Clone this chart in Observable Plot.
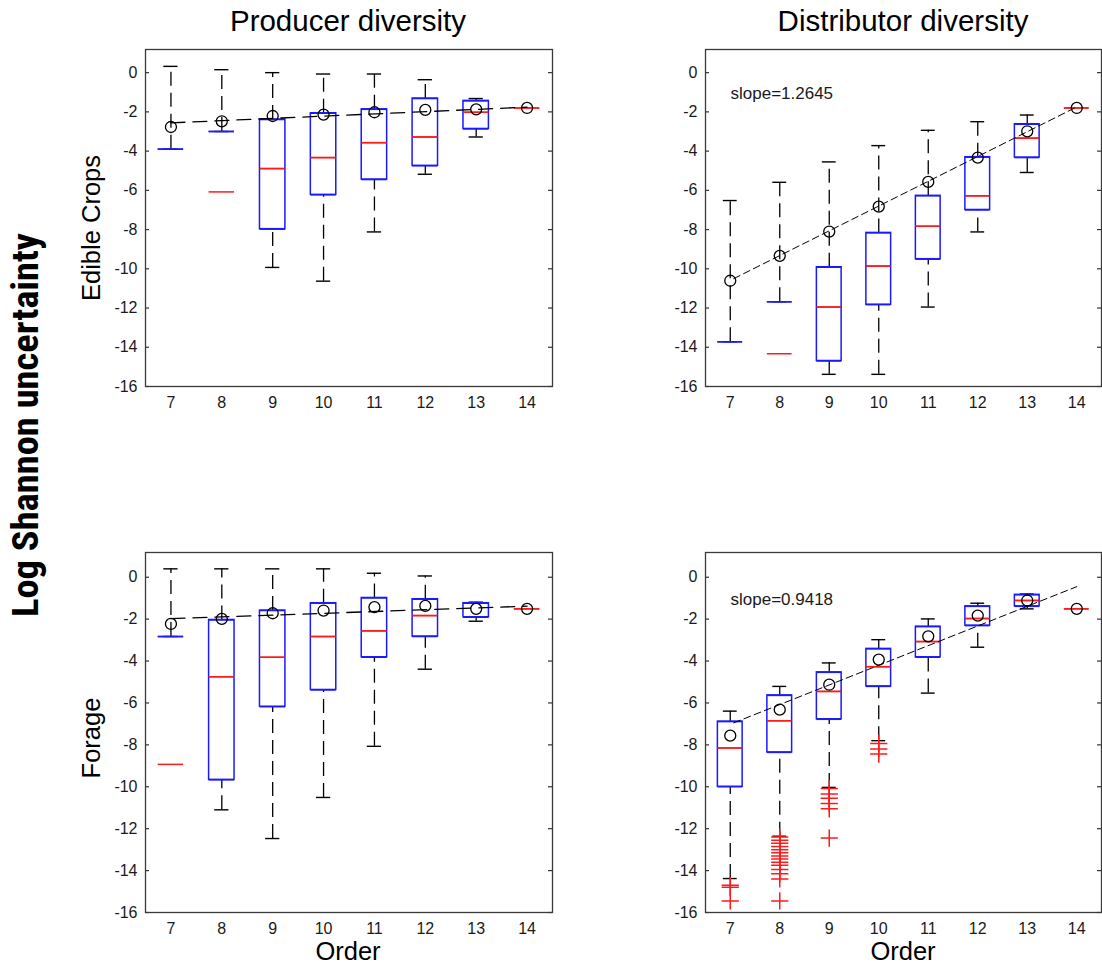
<!DOCTYPE html>
<html>
<head>
<meta charset="utf-8">
<script src="https://cdn.jsdelivr.net/npm/d3@7"></script>
<script src="https://cdn.jsdelivr.net/npm/@observablehq/plot@0.6"></script>
<style>
html, body { margin: 0; padding: 0; background: #fff; overflow: hidden; }
#wrap { position: relative; width: 1102px; height: 965px; font-family: "Liberation Sans", Arial, sans-serif; }
#overlay { position: absolute; left: 0; top: 0; pointer-events: none; }
</style>
</head>
<body>
<div id="wrap"></div>
<script>
// ---------- data ----------
const orders = [7, 8, 9, 10, 11, 12, 13, 14];
const yTicks = [0, -2, -4, -6, -8, -10, -12, -14, -16];

// Edible crops – producer diversity
const ecProdHi   = [0.32, 0.15, 0.00, -0.07, -0.07, -0.36, -1.32, null];
const ecProdQ3   = [-3.90, -3.00, -2.39, -2.07, -1.87, -1.32, -1.44, null];
const ecProdMed  = [null, -6.08, -4.89, -4.33, -3.57, -3.28, -2.02, -1.80];
const ecProdQ1   = [-3.90, -3.00, -7.98, -6.23, -5.45, -4.75, -2.87, null];
const ecProdLo   = [-3.90, -3.00, -9.93, -10.63, -8.12, -5.18, -3.28, null];
const ecProdMean = [-2.77, -2.48, -2.21, -2.14, -2.02, -1.90, -1.87, -1.80];
const ecProdFitX = [7, 14];
const ecProdFitY = [-2.56, -1.76];

// Edible crops – distributor diversity
const ecDistHi   = [-6.52, -5.59, -4.55, -3.72, -2.94, -2.50, -2.16, null];
const ecDistQ3   = [-13.72, -11.68, -9.92, -8.17, -6.28, -4.31, -2.63, null];
const ecDistMed  = [null, -14.33, -11.95, -9.86, -7.83, -6.28, -3.34, -1.80];
const ecDistQ1   = [-13.72, -11.68, -14.70, -11.83, -9.51, -7.00, -4.33, null];
const ecDistLo   = [-13.72, -11.68, -15.38, -15.38, -11.95, -8.12, -5.09, null];
const ecDistMean = [-10.61, -9.34, -8.10, -6.83, -5.57, -4.33, -2.99, -1.80];
const ecDistFitX = [7.07, 14];
const ecDistFitY = [-10.50, -1.75];
const ecDistSlope = "slope=1.2645";

// Forage – producer diversity
const fgProdHi   = [0.40, 0.40, 0.40, 0.40, 0.19, 0.06, -1.19, null];
const fgProdQ3   = [-2.83, -2.04, -1.59, -1.24, -0.99, -1.05, -1.24, null];
const fgProdMed  = [-8.93, -4.75, -3.82, -2.83, -2.56, -1.83, -1.24, -1.51];
const fgProdQ1   = [-2.83, -9.67, -6.18, -5.38, -3.82, -2.83, -1.91, null];
const fgProdLo   = [-2.83, -11.10, -12.47, -10.51, -8.07, -4.39, -2.10, null];
const fgProdMean = [-2.23, -1.99, -1.72, -1.59, -1.43, -1.37, -1.51, -1.51];
const fgProdFitX = [7, 14];
const fgProdFitY = [-1.98, -1.38];

// Forage – distributor diversity
const fgDistHi   = [-6.39, -5.21, -4.09, -2.98, -1.99, -1.24, -0.80, null];
const fgDistQ3   = [-6.89, -5.64, -4.54, -3.42, -2.36, -1.39, -0.84, null];
const fgDistMed  = [-8.15, -6.85, -5.45, -4.27, -3.07, -1.97, -1.11, -1.51];
const fgDistQ1   = [-10.00, -8.36, -6.78, -5.21, -3.82, -2.31, -1.39, null];
const fgDistLo   = [-14.38, -12.36, -10.03, -7.80, -5.53, -3.34, -1.51, null];
const fgDistMean = [-7.56, -6.32, -5.13, -3.93, -2.82, -1.83, -1.11, -1.51];
const fgDistFitX = [7.07, 14];
const fgDistFitY = [-6.95, -0.45];
const fgDistSlope = "slope=0.9418";
const fgDistOutOrder = [7, 7, 7,
  8, 8, 8, 8, 8, 8, 8, 8, 8, 8, 8, 8, 8, 8,
  9, 9, 9, 9, 9, 9,
  10, 10, 10];
const fgDistOutValue = [-14.70, -14.80, -15.45,
  -12.40, -12.55, -12.70, -12.85, -13.00, -13.15, -13.30, -13.45, -13.60, -13.75, -13.95, -14.15, -14.40, -15.45,
  -10.08, -10.35, -10.55, -10.80, -11.05, -12.45,
  -7.93, -8.20, -8.44];

// ---------- drawing ----------
const wrap = document.getElementById("wrap");
const BOX_HALF = 0.25, CAP_HALF = 0.14;

function panel(cfg) {
  const {frameLeft, frameTop, fw, fh, hi, q3, med, q1, lo, mean, fitX, fitY, fitDash, fitWidth,
         slope, slopeDy, outOrder, outValue, mR} = cfg;
  const mL = 45, mT = 5, mB = 30;
  const rows = orders.map((o, i) => ({order: o, hi: hi[i], q3: q3[i], med: med[i], q1: q1[i], lo: lo[i], mean: mean[i]}));
  const boxed = rows.filter(d => d.q3 != null);
  const upper = boxed.filter(d => d.hi != null && d.hi > d.q3);
  const lower = boxed.filter(d => d.lo != null && d.lo < d.q1);
  const meds = rows.filter(d => d.med != null);
  const fit = fitX.map((x, i) => ({order: x, value: fitY[i]}));
  const outs = (outOrder || []).map((o, i) => ({order: o, value: outValue[i]}));
  const bx1 = d => d.order - BOX_HALF, bx2 = d => d.order + BOX_HALF;
  const cx1 = d => d.order - CAP_HALF, cx2 = d => d.order + CAP_HALF;
  const whisk = {stroke: "black", strokeWidth: 1.3, strokeDasharray: "14,7"};

  const svg = Plot.plot({
    width: fw + mL + mR, height: fh + mT + mB,
    marginLeft: mL, marginRight: mR, marginTop: mT, marginBottom: mB,
    x: {domain: [6.5, 14.5], label: null},
    y: {domain: [-16, 1.18], label: null},
    style: {fontFamily: '"Liberation Sans", Arial, sans-serif', fontSize: "16px", color: "#1a1a1a", background: "transparent", overflow: "visible"},
    marks: [
      Plot.axisX(orders, {tickSize: 0, tickPadding: 10, tickFormat: d => String(d), label: null, fontSize: 16}),
      Plot.axisY(yTicks, {tickSize: 0, tickPadding: 8, tickFormat: d => String(d), label: null, fontSize: 16}),
      Plot.tickY(yTicks, {y: d => d, insetRight: fw - 4, stroke: "#333", strokeWidth: 1.2}),
      Plot.tickY(yTicks, {y: d => d, insetLeft: fw - 4, stroke: "#333", strokeWidth: 1.2}),
      // whiskers
      Plot.ruleX(upper, {x: "order", y1: "q3", y2: "hi", ...whisk}),
      Plot.ruleX(lower, {x: "order", y1: "lo", y2: "q1", ...whisk}),
      Plot.ruleY(rows.filter(d => d.hi != null), {y: "hi", x1: cx1, x2: cx2, stroke: "black", strokeWidth: 1.4}),
      Plot.ruleY(rows.filter(d => d.lo != null), {y: "lo", x1: cx1, x2: cx2, stroke: "black", strokeWidth: 1.4}),
      // medians
      Plot.ruleY(meds, {y: "med", x1: bx1, x2: bx2, stroke: "#ff1a1a", strokeWidth: 1.5}),
      // boxes
      Plot.rect(boxed.filter(d => d.q3 > d.q1), {x1: bx1, x2: bx2, y1: "q1", y2: "q3", fill: "none", stroke: "#1a1aff", strokeWidth: 1.5}),
      Plot.ruleY(boxed, {y: "q1", x1: bx1, x2: bx2, stroke: "#1a1aff", strokeWidth: 1.5}),
      Plot.ruleY(boxed, {y: "q3", x1: bx1, x2: bx2, stroke: "#1a1aff", strokeWidth: 1.5}),
      // medians on top of box interior (not edges)
      Plot.ruleY(meds.filter(d => d.q3 == null || (d.med < d.q3 && d.med > d.q1)), {y: "med", x1: bx1, x2: bx2, stroke: "#ff1a1a", strokeWidth: 1.5}),
      // outliers
      Plot.dot(outs, {x: "order", y: "value", symbol: "plus", r: 5.6, stroke: "#ff1a1a", strokeWidth: 1.5}),
      // fitted line
      Plot.line(fit, {x: "order", y: "value", stroke: "black", strokeWidth: fitWidth, strokeDasharray: fitDash}),
      // means
      Plot.dot(rows, {x: "order", y: "mean", r: 5.5, stroke: "black", fill: "none", strokeWidth: 1.3}),
      slope ? Plot.text([slope], {frameAnchor: "top-left", dx: 25, dy: slopeDy, text: d => d, textAnchor: "start", lineAnchor: "middle", fontSize: 17, fill: "#1a1a1a"}) : null,
      Plot.frame({stroke: "#3a3a3a", strokeWidth: 1.3})
    ]
  });
  svg.style.position = "absolute";
  svg.style.left = (frameLeft - mL) + "px";
  svg.style.top = (frameTop - mT) + "px";
  svg.style.maxWidth = "none";
  svg.style.margin = "0";
  wrap.appendChild(svg);
}

panel({frameLeft: 145, frameTop: 49, fw: 407, fh: 337, mR: 5,
  hi: ecProdHi, q3: ecProdQ3, med: ecProdMed, q1: ecProdQ1, lo: ecProdLo, mean: ecProdMean,
  fitX: ecProdFitX, fitY: ecProdFitY, fitDash: "14,8", fitWidth: 1.3});
panel({frameLeft: 705, frameTop: 49, fw: 396, fh: 337, mR: 1,
  hi: ecDistHi, q3: ecDistQ3, med: ecDistMed, q1: ecDistQ1, lo: ecDistLo, mean: ecDistMean,
  fitX: ecDistFitX, fitY: ecDistFitY, fitDash: "7,4", fitWidth: 1, slope: ecDistSlope, slopeDy: 44});
panel({frameLeft: 145, frameTop: 552, fw: 407, fh: 360, mR: 5,
  hi: fgProdHi, q3: fgProdQ3, med: fgProdMed, q1: fgProdQ1, lo: fgProdLo, mean: fgProdMean,
  fitX: fgProdFitX, fitY: fgProdFitY, fitDash: "14,8", fitWidth: 1.3});
panel({frameLeft: 705, frameTop: 552, fw: 396, fh: 360, mR: 1,
  hi: fgDistHi, q3: fgDistQ3, med: fgDistMed, q1: fgDistQ1, lo: fgDistLo, mean: fgDistMean,
  fitX: fgDistFitX, fitY: fgDistFitY, fitDash: "7,4", fitWidth: 1, slope: fgDistSlope, slopeDy: 47,
  outOrder: fgDistOutOrder, outValue: fgDistOutValue});

// ---------- titles and labels ----------
const NS = "http://www.w3.org/2000/svg";
const ov = document.createElementNS(NS, "svg");
ov.setAttribute("id", "overlay");
ov.setAttribute("width", 1102);
ov.setAttribute("height", 965);
function txt(s, x, y, opts = {}) {
  const t = document.createElementNS(NS, "text");
  t.textContent = s;
  t.setAttribute("x", x);
  t.setAttribute("y", y);
  t.setAttribute("text-anchor", "middle");
  t.setAttribute("font-family", opts.family || '"Liberation Sans", Arial, sans-serif');
  t.setAttribute("font-size", opts.size || 16);
  t.setAttribute("fill", "#000");
  if (opts.weight) t.setAttribute("font-weight", opts.weight);
  if (opts.rotate) t.setAttribute("transform", `rotate(-90 ${x} ${y})`);
  if (opts.length) { t.setAttribute("textLength", opts.length); t.setAttribute("lengthAdjust", "spacingAndGlyphs"); }
  ov.appendChild(t);
}
txt("Producer diversity", 348, 31, {size: 29.5});
txt("Distributor diversity", 903, 31, {size: 29.5});
txt("Order", 348, 960, {size: 25.5});
txt("Order", 903, 960, {size: 25.5});
txt("Edible Crops", 100, 228, {size: 25.5, rotate: true});
txt("Forage", 100, 738, {size: 25.5, rotate: true});
txt("Log Shannon uncertainty", 38, 425, {size: 36, weight: "bold", rotate: true, length: 384,
  family: '"Liberation Sans Narrow", "Roboto Condensed", Lato, "Liberation Sans", sans-serif'});
wrap.appendChild(ov);
</script>
</body>
</html>
